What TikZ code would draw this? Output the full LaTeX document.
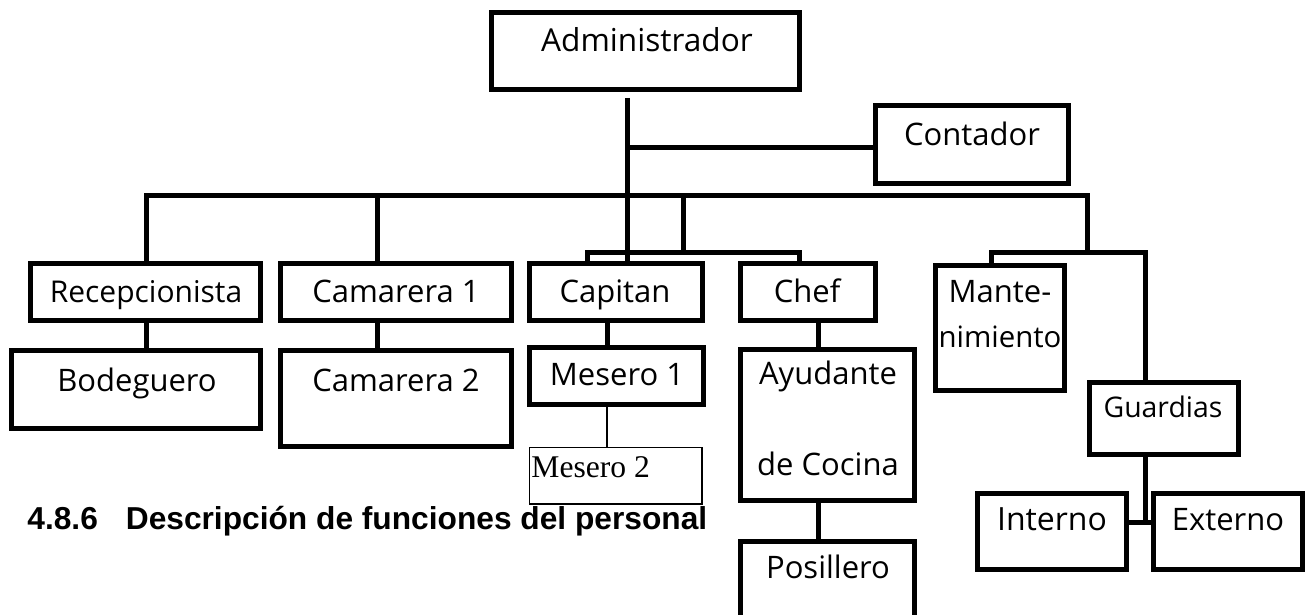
\documentclass[tikz,border=0pt]{standalone}
\usepackage{fontspec}
\setmainfont{Open Sans}
\newfontfamily\titlefont{Liberation Sans}
\newfontfamily\seriffont{Liberation Serif}
\usetikzlibrary{calc}
\tikzset{
  box/.style={draw=black, line width=2.5pt, fill=white, inner sep=0pt, outer sep=0pt, rectangle},
  thinbox/.style={draw=black, line width=0.6pt, fill=white, inner sep=0pt, outer sep=0pt, rectangle},
  conn/.style={draw=black, line width=2.5pt, line join=miter},
  thinconn/.style={draw=black, line width=0.6pt},
  lbl/.style={inner sep=0pt, outer sep=0pt, anchor=base, font=\fontsize{15.5pt}{18pt}\selectfont},
}
\begin{document}
\begin{tikzpicture}[x=0.5pt, y=-0.5pt]
\useasboundingbox (0,0) rectangle (1316,615);
\clip (0,0) rectangle (1316,615);

% boxes
\node[box, minimum width=154pt, minimum height=38.5pt] (adm) at (645.5,51) {};
\node[box, minimum width=96.5pt, minimum height=39pt] (cont) at (972,144.5) {};
\node[box, minimum width=115pt, minimum height=28.5pt] (recep) at (145.5,292) {};
\node[box, minimum width=124.5pt, minimum height=39pt] (bod) at (136,389.5) {};
\node[box, minimum width=115.5pt, minimum height=28.5pt] (cam1) at (396,292) {};
\node[box, minimum width=115.5pt, minimum height=48pt] (cam2) at (396,398.5) {};
\node[box, minimum width=86.5pt, minimum height=28.5pt] (cap) at (616,292) {};
\node[box, minimum width=67.5pt, minimum height=28.5pt] (chef) at (808,292) {};
\node[box, minimum width=87pt, minimum height=28.5pt] (mes1) at (616.5,376) {};
\node[thinbox, minimum width=86.25pt, minimum height=28.25pt] (mes2) at (615.75,475.75) {};
\node[box, minimum width=87pt, minimum height=75.5pt] (ayu) at (827.5,425) {};
\node[box, minimum width=87pt, minimum height=59.25pt] (pos) at (827.5,600.75) {};
\node[box, minimum width=64.5pt, minimum height=62.5pt] (mant) at (1000,328) {};
\node[box, minimum width=74.5pt, minimum height=36pt] (guard) at (1164,418.5) {};
\node[box, minimum width=74.5pt, minimum height=38pt] (int) at (1052,531.5) {};
\node[box, minimum width=74.5pt, minimum height=38pt] (ext) at (1228,531.5) {};

% texts
\node[lbl, font=\fontsize{15.8pt}{18pt}\selectfont] (tadm) at (647,52) {Administrador};
\node[lbl] (tcont) at (972,145) {Contador};
\node[lbl, font=\fontsize{15pt}{18pt}\selectfont] (trecep) at (146,302) {Recepcionista};
\node[lbl] (tbod) at (137,391) {Bodeguero};
\node[lbl] (tcam1) at (396,302) {Camarera 1};
\node[lbl] (tcam2) at (396,391) {Camarera 2};
\node[lbl] (tcap) at (615,302) {Capitan};
\node[lbl] (tchef) at (807,302) {Chef};
\node[lbl] (tmes1) at (617,385) {Mesero 1};
\node[inner sep=0pt, anchor=base west, font=\seriffont\fontsize{15.8pt}{18pt}\selectfont] (tmes2) at (531,477) {Mesero 2};
\node[lbl] (tayu1) at (828,384) {Ayudante};
\node[lbl] (tayu2) at (828,475) {de Cocina};
\node[lbl] (tpos) at (828,578) {Posillero};
\node[lbl] (tmant1) at (1000,302) {Mante-};
\node[lbl, font=\fontsize{14.7pt}{18pt}\selectfont] (tmant2) at (1000,347) {nimiento};
\node[lbl, font=\fontsize{14.2pt}{18pt}\selectfont] (tguard) at (1163,417) {Guardias};
\node[lbl, font=\fontsize{16pt}{18pt}\selectfont] (tint) at (1052,530) {Interno};
\node[lbl] (text) at (1228,530) {Externo};

\node[inner sep=0pt, anchor=base west, font=\titlefont\bfseries\fontsize{15.85pt}{18pt}\selectfont] (title) at (27,529) {4.8.6\hspace{14pt}Descripción de funciones del personal};

% junction coordinates
\coordinate (mx) at (627,0);
\coordinate (jc) at (627,147);
\coordinate (bl) at (146,195);
\coordinate (br) at (1087,195);
\coordinate (c1) at (377,195);
\coordinate (c2) at (683,195);
\coordinate (kb) at (683,252);
\coordinate (kl) at (587,252);
\coordinate (kr) at (799,252);
\coordinate (mk) at (991,252);
\coordinate (gk) at (1145,252);
\coordinate (m1x) at (607,0);
\coordinate (ax) at (818,0);
\coordinate (gj) at (1145,522);

% connectors
\draw[conn] ($(adm.south -| mx)+(0,8.5)$) -- (cap.north -| mx);
\draw[conn] (jc) -- (cont.west |- jc);
\draw[conn] (recep.north -| bl) -- (bl) -- (br) -- (br |- mk);
\draw[conn] (c1) -- (cam1.north -| c1);
\draw[conn] (c2) -- (kb);
\draw[conn] (cap.north -| kl) -- (kl) -- (kr) -- (chef.north -| kr);
\draw[conn] (mant.north -| mk) -- (mk) -- (gk) -- (guard.north -| gk);
\draw[conn] (recep.south -| bl) -- (bod.north -| bl);
\draw[conn] (cam1.south -| c1) -- (cam2.north -| c1);
\draw[conn] (cap.south -| m1x) -- (mes1.north -| m1x);
\draw[thinconn] (mes1.south -| m1x) -- (mes2.north -| m1x);
\draw[conn] (chef.south -| ax) -- (ayu.north -| ax);
\draw[conn] (ayu.south -| ax) -- (pos.north -| ax);
\draw[conn] (guard.south -| gj) -- (gj);
\draw[conn] (int.east |- gj) -- (ext.west |- gj);
\end{tikzpicture}
\end{document}
